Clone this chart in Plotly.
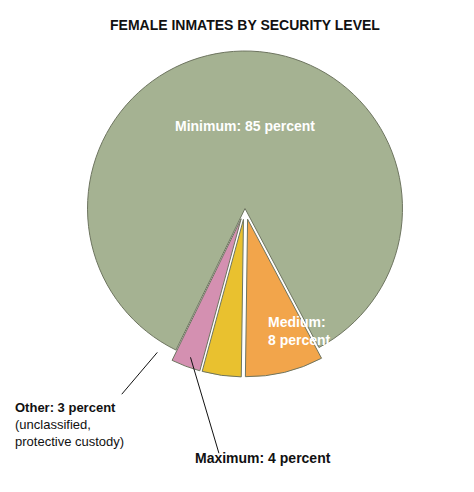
import plotly.graph_objects as go

levels = ["Medium", "Maximum", "Other", "Minimum"]
shares = [8, 4, 3, 85]
colors = ["#f2a54b", "#e9c12f", "#d490b1", "#a5b292"]
pulls = [0.07, 0.07, 0.07, 0]

font_family = "Liberation Sans Narrow, Arial Narrow, sans-serif"

fig = go.Figure(
    go.Pie(
        labels=levels,
        values=shares,
        sort=False,
        direction="clockwise",
        rotation=152,
        pull=pulls,
        marker=dict(colors=colors, line=dict(color="#6e7560", width=1)),
        textinfo="none",
        hoverinfo="label+percent",
        domain=dict(x=[0.0, 1.0], y=[0.25, 0.935]),
        showlegend=False,
    )
)

fig.update_layout(
    width=474,
    height=492,
    margin=dict(l=0, r=0, t=0, b=0),
    paper_bgcolor="white",
    font=dict(family=font_family, color="#111"),
    annotations=[
        dict(text="<b>FEMALE INMATES BY SECURITY LEVEL</b>", x=0.5, y=0.985,
             xref="paper", yref="paper", showarrow=False, font=dict(size=14)),
        dict(text="<b>Minimum: 85 percent</b>", x=0.5, y=0.78, xref="paper", yref="paper",
             showarrow=False, font=dict(size=14, color="white")),
        dict(text="<b>Medium:<br>8 percent</b>", x=0.545, y=0.305, xref="paper", yref="paper",
             showarrow=False, xanchor="left", align="left", font=dict(size=14, color="white")),
        dict(text="<b>Maximum: 4 percent</b>", x=0.39, y=0.065, xref="paper", yref="paper",
             showarrow=False, xanchor="left", font=dict(size=14)),
        dict(text="<b>Other: 3 percent</b><br>(unclassified,<br>protective custody)",
             x=0.01, y=0.1, xref="paper", yref="paper", showarrow=False,
             xanchor="left", align="left", font=dict(size=13)),
    ],
    shapes=[
        dict(type="line", xref="paper", yref="paper", x0=0.24, y0=0.215, x1=0.315, y1=0.30,
             line=dict(color="#111", width=1)),
        dict(type="line", xref="paper", yref="paper", x0=0.445, y0=0.095, x1=0.385, y1=0.29,
             line=dict(color="#111", width=1)),
    ],
)

fig.write_html("out.html")
